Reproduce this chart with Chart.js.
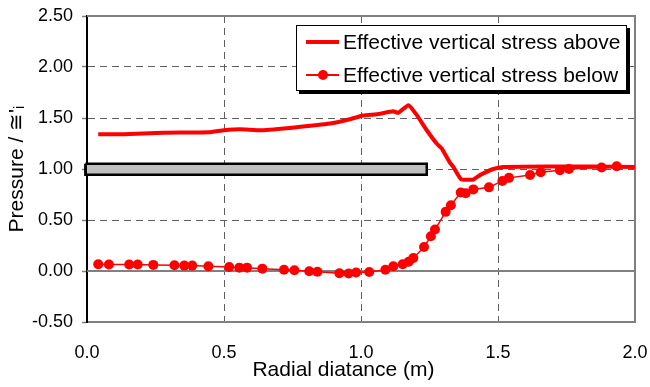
<!DOCTYPE html>
<html>
<head>
<meta charset="utf-8">
<script src="https://cdn.jsdelivr.net/npm/chart.js@4.4.1/dist/chart.umd.min.js"></script>
<style>
    body { margin: 0; background: #fff; }
    #wrap { position: relative; width: 650px; height: 387px; }
    #legend {
        position: absolute; left: 296px; top: 25px; width: 329px; height: 64px;
        border: 1px solid #000; box-shadow: 3px 3px 0 #000; background: #fff;
        font-family: "Liberation Sans", Arial, sans-serif; font-size: 21px; color: #000;
    }
    .item { position: absolute; left: 0; height: 24px; line-height: 24px; white-space: nowrap; }
    .item span.txt { position: absolute; left: 46px; top: 0; }
    .sample { position: absolute; left: 9px; width: 33px; background: #f00; }
    .dot { position: absolute; left: 21px; top: 7px; width: 10px; height: 10px; border-radius: 50%; background: #f00; }
</style>
</head>
<body>
<div id="wrap">
    <canvas id="chart" width="650" height="387"></canvas>
    <div id="legend"></div>
</div>
<script>
// Effective vertical stress above (thick line)
const aboveX = [0.041, 0.132, 0.278, 0.443, 0.50, 0.558, 0.638, 0.765, 0.887, 0.948, 1.008, 1.057, 1.118, 1.136, 1.173, 1.203, 1.240, 1.276, 1.295, 1.325, 1.337, 1.365, 1.39, 1.41, 1.434, 1.483, 1.519, 1.678, 1.85, 2.0];
const aboveY = [1.34, 1.34, 1.355, 1.36, 1.38, 1.39, 1.38, 1.41, 1.446, 1.48, 1.525, 1.537, 1.565, 1.55, 1.625, 1.53, 1.38, 1.25, 1.20, 1.06, 1.02, 0.90, 0.895, 0.897, 0.94, 1.00, 1.02, 1.025, 1.025, 1.02];

// Effective vertical stress below (line with markers)
const belowX = [0.041, 0.080, 0.154, 0.185, 0.242, 0.319, 0.355, 0.384, 0.443, 0.519, 0.556, 0.584, 0.640, 0.719, 0.757, 0.811, 0.841, 0.921, 0.955, 0.982, 1.030, 1.089, 1.118, 1.152, 1.174, 1.191, 1.230, 1.255, 1.270, 1.309, 1.328, 1.364, 1.382, 1.410, 1.467, 1.516, 1.540, 1.617, 1.656, 1.726, 1.759, 1.878, 1.933];
const belowY = [0.066, 0.063, 0.063, 0.063, 0.060, 0.056, 0.053, 0.053, 0.046, 0.040, 0.033, 0.033, 0.023, 0.013, 0.007, -0.003, -0.007, -0.022, -0.025, -0.015, -0.010, 0.013, 0.046, 0.066, 0.090, 0.128, 0.236, 0.340, 0.406, 0.580, 0.645, 0.770, 0.763, 0.800, 0.820, 0.883, 0.913, 0.942, 0.968, 0.988, 1.000, 1.015, 1.027];

// grey slab outline
const slabX = [-0.006, 1.240, 1.240, -0.006, -0.006];
const slabY = [1.052, 1.052, 0.944, 0.944, 1.052];

const xTicks = [0, 0.5, 1.0, 1.5, 2.0];
const yTicks = [-0.5, 0, 0.5, 1.0, 1.5, 2.0, 2.5];

const labelAbove = 'Effective vertical stress above';
const labelBelow = 'Effective vertical stress below';

const pts = (xs, ys) => xs.map((x, i) => ({ x: x, y: ys[i] }));

// frame + zero line in grey
const framePlugin = {
    id: 'frame',
    beforeDatasetsDraw(chart) {
        const { ctx, chartArea: a, scales } = chart;
        const y0 = scales.y.getPixelForValue(0);
        ctx.save();
        ctx.strokeStyle = '#808080';
        ctx.lineWidth = 2;
        ctx.beginPath();
        ctx.moveTo(a.left, a.top);
        ctx.lineTo(a.right, a.top);
        ctx.lineTo(a.right, a.bottom);
        ctx.moveTo(a.left, y0);
        ctx.lineTo(a.right, y0);
        ctx.stroke();
        ctx.restore();
    }
};

const noPad = (s) => { s.paddingLeft = 0; s.paddingRight = 0; s.paddingTop = 0; s.paddingBottom = 0; };

const FONT = '"Liberation Sans", Arial, sans-serif';

new Chart(document.getElementById('chart'), {
    type: 'line',
    data: {
        datasets: [
            {
                label: labelAbove,
                data: pts(aboveX, aboveY),
                borderColor: '#ff0000',
                borderWidth: 4,
                pointRadius: 0,
                tension: 0.15,
                fill: false
            },
            {
                label: labelBelow,
                data: pts(belowX, belowY),
                borderColor: '#ff0000',
                backgroundColor: '#ff0000',
                borderWidth: 1.5,
                pointRadius: 5,
                pointBorderWidth: 0,
                tension: 0,
                fill: false
            },
            {
                label: 'slab',
                data: pts(slabX, slabY),
                borderColor: '#000',
                backgroundColor: '#c0c0c0',
                borderWidth: 2.5,
                borderJoinStyle: 'miter',
                pointRadius: 0,
                tension: 0,
                fill: 'shape',
                clip: false
            }
        ]
    },
    options: {
        responsive: false,
        animation: false,
        devicePixelRatio: 1,
        layout: { padding: { top: 16, right: 15, left: 0, bottom: 0 } },
        plugins: {
            legend: { display: false },
            tooltip: { enabled: false }
        },
        scales: {
            x: {
                type: 'linear',
                min: 0,
                max: 2,
                afterFit: (s) => { s.height = 65; noPad(s); },
                afterBuildTicks: (s) => { s.ticks = xTicks.map(v => ({ value: v })); },
                ticks: {
                    color: '#000',
                    font: { family: FONT, size: 18 },
                    padding: 20,
                    maxRotation: 0,
                    callback: (v) => Number(v).toFixed(1)
                },
                grid: {
                    color: (c) => (c.tick && (c.tick.value === 0 || c.tick.value === 2)) ? 'rgba(0,0,0,0)' : '#606060',
                    lineWidth: 1,
                    drawTicks: false
                },
                border: { color: '#808080', width: 2, dash: [7, 5] },
                title: {
                    display: true,
                    text: 'Radial diatance (m)      ',
                    color: '#000',
                    font: { family: FONT, size: 21 },
                    padding: { top: 0, bottom: 4 }
                }
            },
            y: {
                min: -0.5,
                max: 2.5,
                afterFit: (s) => { s.width = 87; noPad(s); },
                afterBuildTicks: (s) => { s.ticks = yTicks.map(v => ({ value: v })); },
                ticks: {
                    color: '#000',
                    font: { family: FONT, size: 18 },
                    padding: 9,
                    callback: (v) => Number(v).toFixed(2)
                },
                grid: {
                    color: (c) => (c.tick && [2.5, 0, -0.5].includes(c.tick.value)) ? 'rgba(0,0,0,0)' : '#606060',
                    lineWidth: 1,
                    tickLength: 5,
                    tickColor: '#808080',
                    tickWidth: 1.5
                },
                border: { color: '#000', width: 2, dash: [7, 5] },
                title: {
                    display: true,
                    text: "Pressure / \u2245'\u1d62",
                    color: '#000',
                    font: { family: FONT, size: 21 },
                    padding: { top: 5, bottom: 0 }
                }
            }
        }
    },
    plugins: [framePlugin]
});

// html legend
const legend = document.getElementById('legend');
legend.innerHTML =
    '<div class="item" style="top:4px"><div class="sample" style="top:10px;height:4px"></div><span class="txt">' + labelAbove + '</span></div>' +
    '<div class="item" style="top:37px"><div class="sample" style="top:11px;height:2px"></div><div class="dot"></div><span class="txt">' + labelBelow + '</span></div>';
</script>
</body>
</html>
